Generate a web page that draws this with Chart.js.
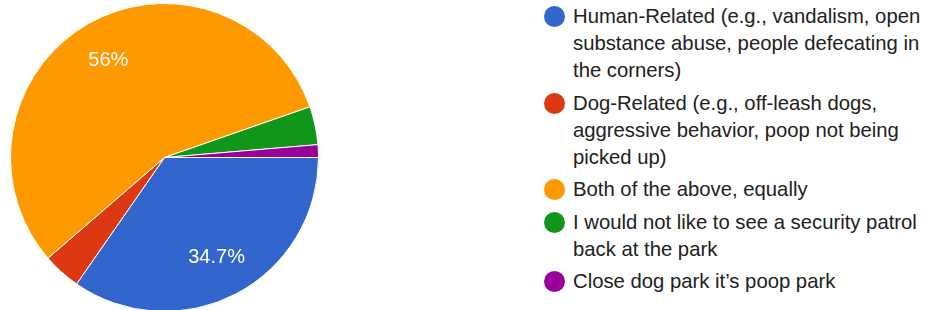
<!DOCTYPE html>
<html>
<head>
<meta charset="utf-8">
<script src="https://cdn.jsdelivr.net/npm/chart.js@4.4.1/dist/chart.umd.min.js"></script>
<style>
  body {
    margin: 0;
    background: #fff;
    width: 929px;
    height: 310px;
    overflow: hidden;
    font-family: Arial, "Liberation Sans", sans-serif;
  }
  .pie-box {
    position: absolute;
    left: 10px;
    top: 3px;
    width: 309px;
    height: 309px;
  }
  #legend {
    position: absolute;
    left: 544px;
    top: 3px;
    margin: 0;
    padding: 0;
    list-style: none;
    font-size: 20.3px;
    line-height: 27px;
    color: #212121;
  }
  #legend li {
    position: relative;
    padding-left: 29px;
    margin-bottom: 5.5px;
    white-space: nowrap;
  }
  #legend .dot {
    position: absolute;
    left: 0;
    top: 3px;
    width: 21px;
    height: 21px;
    border-radius: 50%;
  }
</style>
</head>
<body>
<div class="pie-box"><canvas id="pieChart"></canvas></div>
<ul id="legend"></ul>

<script>
// answers, each split into the lines shown in the legend
const answers = [
  ["Human-Related (e.g., vandalism, open", "substance abuse, people defecating in", "the corners)"],
  ["Dog-Related (e.g., off-leash dogs,", "aggressive behavior, poop not being", "picked up)"],
  ["Both of the above, equally"],
  ["I would not like to see a security patrol", "back at the park"],
  ["Close dog park it\u2019s poop park"],
];
const responses = [26, 3, 42, 3, 1];
const colors = ["#3366cc", "#dc3912", "#ff9900", "#109618", "#990099"];

const total = responses.reduce((a, b) => a + b, 0);

function pctText(v) {
  const p = Math.round((v / total) * 1000) / 10;
  return p + "%";
}

// percentage text inside the big slices
const sliceLabels = {
  id: "sliceLabels",
  afterDatasetsDraw(chart) {
    const ctx = chart.ctx;
    const meta = chart.getDatasetMeta(0);
    ctx.save();
    ctx.fillStyle = "#fff";
    ctx.font = "20px Arial, 'Liberation Sans', sans-serif";
    ctx.textAlign = "center";
    ctx.textBaseline = "middle";
    meta.data.forEach((arc, i) => {
      const v = responses[i];
      if (v / total < 0.05) return;
      const mid = (arc.startAngle + arc.endAngle) / 2;
      const r = arc.outerRadius * 0.73;
      ctx.fillText(pctText(v), arc.x + Math.cos(mid) * r, arc.y + Math.sin(mid) * r);
    });
    ctx.restore();
  },
};

new Chart(document.getElementById("pieChart"), {
  type: "pie",
  data: {
    labels: answers.map((a) => a.join(" ")),
    datasets: [
      {
        data: responses,
        backgroundColor: colors,
        borderColor: "#fff",
        borderWidth: 1,
      },
    ],
  },
  options: {
    responsive: true,
    maintainAspectRatio: false,
    animation: false,
    rotation: 90,
    layout: { padding: 0 },
    plugins: {
      legend: { display: false },
      tooltip: { enabled: false },
    },
  },
  plugins: [sliceLabels],
});

// legend on the right
const legend = document.getElementById("legend");
answers.forEach((lines, i) => {
  const li = document.createElement("li");
  const dot = document.createElement("span");
  dot.className = "dot";
  dot.style.background = colors[i];
  li.appendChild(dot);
  lines.forEach((line, j) => {
    if (j > 0) li.appendChild(document.createElement("br"));
    li.appendChild(document.createTextNode(line));
  });
  legend.appendChild(li);
});
</script>
</body>
</html>
